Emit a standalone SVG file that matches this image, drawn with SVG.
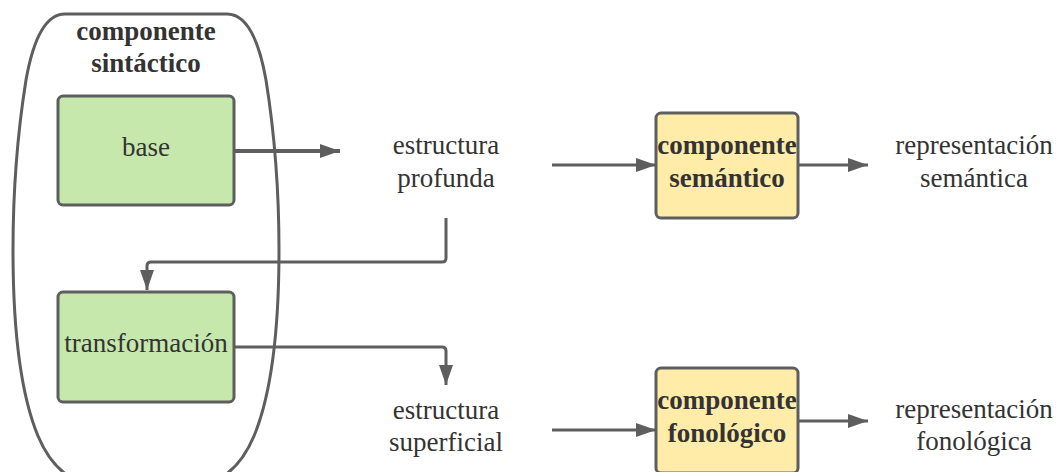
<svg xmlns="http://www.w3.org/2000/svg" width="1057" height="472" viewBox="0 0 1057 472">
  <style>
    .txt { font-family: "Liberation Serif", "DejaVu Serif", serif; font-size: 27px; fill: #333333; text-anchor: middle; }
    .bold { font-weight: bold; }
    .green { fill: #c7e8ac; stroke: #5e5e5e; stroke-width: 3; }
    .yellow { fill: #ffeca9; stroke: #5e5e5e; stroke-width: 3; }
    .outline { fill: none; stroke: #5e5e5e; stroke-width: 3; }
    .link { fill: none; stroke: #5e5e5e; stroke-width: 3; stroke-linejoin: round; marker-end: url(#arrow); }
  </style>
  <defs>
    <marker id="arrow" markerUnits="userSpaceOnUse" markerWidth="22" markerHeight="16" refX="20" refY="8" orient="auto">
      <path d="M0,1 L20,8 L0,15 Z" fill="#5e5e5e"/>
    </marker>
  </defs>

  <rect width="1057" height="472" fill="#ffffff"/>

  <!-- syntactic component container -->
  <g id="componente-sintactico">
    <path class="outline" d="M 65 14 H 227 C 245 14 258 35 266 80 C 274 130 279 190 279 250 C 279 330 271 395 254 436 C 238 474 215 492 146 492 C 77 492 54 474 38 436 C 21 395 13 330 13 250 C 13 190 18 130 26 80 C 34 35 47 14 65 14 Z"/>
    <text class="txt bold" x="146" y="40">componente</text>
    <text class="txt bold" x="146" y="72">sintáctico</text>
  </g>

  <g id="base">
    <rect class="green" x="58" y="96" width="176" height="109" rx="5"/>
    <text class="txt" x="146" y="156">base</text>
  </g>

  <g id="transformacion">
    <rect class="green" x="58" y="292" width="176" height="110" rx="5"/>
    <text class="txt" x="146" y="352">transformación</text>
  </g>

  <g id="estructura-profunda">
    <text class="txt" x="446" y="154">estructura</text>
    <text class="txt" x="446" y="187">profunda</text>
  </g>

  <g id="estructura-superficial">
    <text class="txt" x="446" y="419">estructura</text>
    <text class="txt" x="446" y="451">superficial</text>
  </g>

  <g id="componente-semantico">
    <rect class="yellow" x="656" y="113" width="142" height="105" rx="5"/>
    <text class="txt bold" x="727" y="154">componente</text>
    <text class="txt bold" x="727" y="187">semántico</text>
  </g>

  <g id="componente-fonologico">
    <rect class="yellow" x="656" y="368" width="142" height="105" rx="5"/>
    <text class="txt bold" x="727" y="409">componente</text>
    <text class="txt bold" x="727" y="442">fonológico</text>
  </g>

  <g id="representacion-semantica">
    <text class="txt" x="974" y="154">representación</text>
    <text class="txt" x="974" y="187">semántica</text>
  </g>

  <g id="representacion-fonologica">
    <text class="txt" x="974" y="418">representación</text>
    <text class="txt" x="974" y="450">fonológica</text>
  </g>

  <!-- connectors -->
  <g id="connectors">
    <path class="link" style="stroke-width:4" d="M 235 151 H 340"/>
    <path class="link" d="M 552 165 H 656"/>
    <path class="link" d="M 798 165 H 868"/>
    <path class="link" d="M 446 218 V 258 Q 446 262 442 262 H 151 Q 147 262 147 266 V 290"/>
    <path class="link" d="M 235 347 H 442 Q 446 347 446 351 V 385"/>
    <path class="link" d="M 552 430 H 656"/>
    <path class="link" d="M 798 421 H 868"/>
  </g>
</svg>
